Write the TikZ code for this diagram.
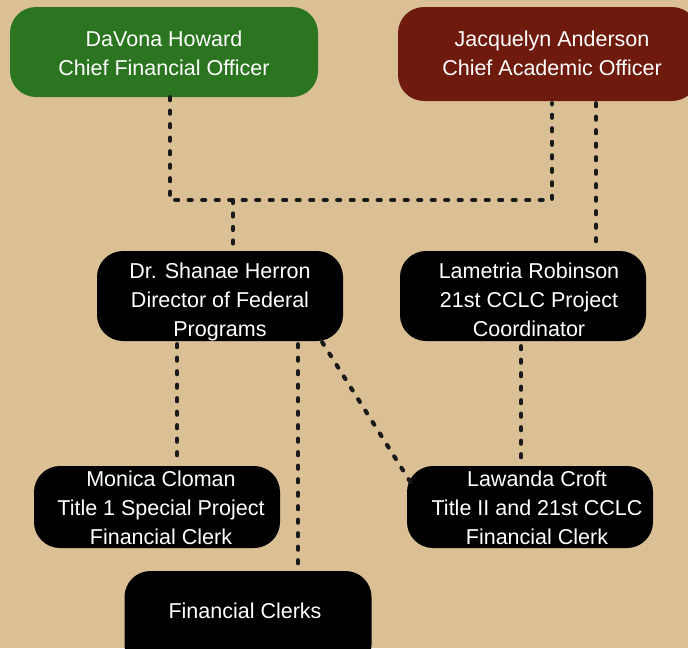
\documentclass[tikz,border=0pt]{standalone}
\usepackage{fontspec}
\setmainfont{Liberation Sans}
\definecolor{bgtan}{HTML}{DBC096}
\definecolor{cfogreen}{HTML}{2B7520}
\definecolor{caored}{HTML}{6E1A0D}
\definecolor{linec}{HTML}{1A1A1A}
\begin{document}
\begin{tikzpicture}[x=1pt,y=-1pt,
  box/.style={draw=none, rounded corners=26pt, inner sep=0pt},
  lbl/.style={text=white, align=center, font=\fontsize{21.5}{29}\selectfont, inner sep=0pt},
  conn/.style={draw=linec, line width=4.2pt, line cap=round, dash pattern=on 3pt off 10.5pt}]
\useasboundingbox (0,0) rectangle (688,648);
\fill[bgtan] (0,0) rectangle (688,648);
% boxes
\node[box, fill=cfogreen, minimum width=308pt, minimum height=90pt] (cfo) at (164,52) {};
\node[box, fill=caored, minimum width=300pt, minimum height=94pt] (cao) at (548,54) {};
\node[box, fill=black, minimum width=246pt, minimum height=90pt] (dir) at (220,296) {};
\node[box, fill=black, minimum width=246pt, minimum height=90pt] (coord) at (523,296) {};
\node[box, fill=black, minimum width=246pt, minimum height=82pt] (mon) at (157,507) {};
\node[box, fill=black, minimum width=246pt, minimum height=82pt] (law) at (530,507) {};
\node[box, fill=black, minimum width=247pt, minimum height=100pt] (fc) at (248,621) {};
% texts
\node[lbl] (tcfo) at (164,53) {DaVona Howard\\Chief Financial Officer};
\node[lbl] (tcao) at (552,53) {Jacquelyn Anderson\\Chief Academic Officer};
\node[lbl] (tdir) at (220,302) {Dr. Shanae Herron\\Director of Federal\\Programs};
\node[lbl] (tcoord) at (529,300) {Lametria Robinson\\21st CCLC Project\\Coordinator};
\node[lbl] (tmon) at (161,508) {Monica Cloman\\Title 1 Special Project\\Financial Clerk};
\node[lbl] (tlaw) at (537,508) {Lawanda Croft\\Title II and 21st CCLC\\Financial Clerk};
\node[lbl] (tfc) at (245,611) {Financial Clerks};
% junction coordinates
\coordinate (j1) at (170,200);
\coordinate (j2) at (552,200);
\coordinate (jb) at (233,200);
\coordinate (xr) at (596,0);
\coordinate (xm) at (177,0);
\coordinate (xf) at (298,0);
\coordinate (xl) at (521,0);
% connectors
\draw[conn] (cfo.south -| j1) -- (j1) -- (j2) -- ([yshift=-2pt]cao.south -| j2);
\draw[conn] (jb) -- ([yshift=-2pt]dir.north -| jb);
\draw[conn] ([yshift=-2pt]cao.south -| xr) -- ([yshift=6pt]coord.north -| xr);
\draw[conn] ([yshift=-3pt]dir.south -| xm) -- ([yshift=8pt]mon.north -| xm);
\draw[conn] ([yshift=-3pt]dir.south -| xf) -- ([yshift=2pt]fc.north -| xf);
\draw[conn] ([xshift=-21pt,yshift=-1pt]dir.south east) -- ([xshift=6pt,yshift=-20pt]law.north west);
\draw[conn] ([yshift=-5pt]coord.south -| xl) -- ([yshift=4pt]law.north -| xl);
\end{tikzpicture}
\end{document}
